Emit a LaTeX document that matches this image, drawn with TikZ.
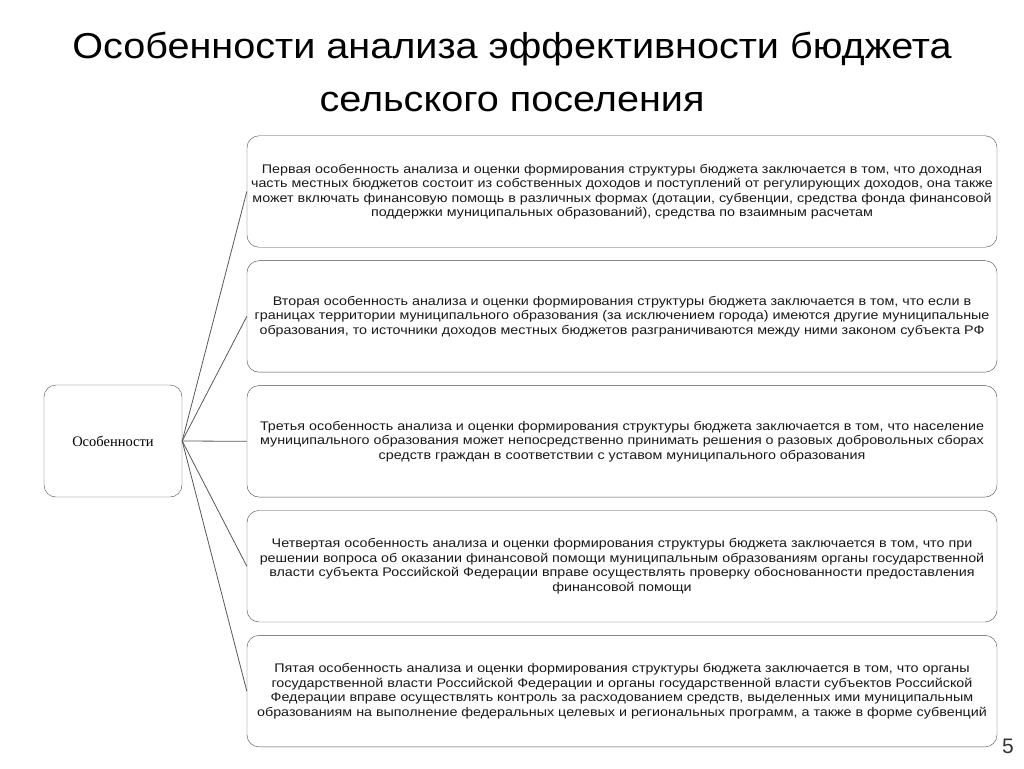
\documentclass[tikz,border=0pt]{standalone}
\usepackage{fontspec}
\setmainfont{Liberation Sans}
\newfontfamily\titlefont[FakeStretch=1.10]{Liberation Sans}
\newfontfamily\boxfont[FakeStretch=1.145]{Liberation Sans}
\newfontfamily\rootfont{Liberation Serif}
\usetikzlibrary{positioning}

\begin{document}
\begin{tikzpicture}[x=1pt, y=-1pt,
    feature/.style={draw=black!70, rounded corners=12pt, minimum height=111.5pt,
                    minimum width=750pt, align=center, inner sep=0pt, text=black!90,
                    font=\boxfont\fontsize{12.5}{14.5}\selectfont},
    rootbox/.style={draw=black!70, rounded corners=12pt, minimum height=112pt,
                    minimum width=138pt, font=\rootfont\fontsize{14.5}{18}\selectfont},
    link/.style={draw=black!65, line width=0.8pt},
    node distance=13pt
]
\useasboundingbox[fill=white] (0,0) rectangle (1024,768);

% --- Title ---
\node[font=\titlefont\fontsize{36}{40}\selectfont, anchor=base] (title1) at (512,59)
    {Особенности анализа эффективности бюджета};
\node[font=\titlefont\fontsize{36}{40}\selectfont, anchor=base] (title2) at (512,111)
    {сельского поселения};

% --- Features (right column) ---
\node[feature] (f1) at (622,191.5) {Первая особенность анализа и оценки формирования  структуры бюджета заключается в том, что доходная\\
часть местных бюджетов состоит из собственных доходов и поступлений  от регулирующих доходов, она также\\
может включать финансовую помощь в различных формах (дотации, субвенции, средства фонда финансовой\\
поддержки муниципальных  образований), средства по взаимным расчетам};
\node[feature, below=of f1] (f2) {Вторая особенность анализа и оценки формирования  структуры бюджета заключается в том, что если в\\
границах территории муниципального образования (за исключением города) имеются другие муниципальные\\
образования, то источники доходов местных бюджетов разграничиваются между ними законом субъекта РФ};
\node[feature, below=of f2] (f3) {Третья особенность анализа и оценки формирования структуры бюджета заключается в том, что население\\
муниципального образования может непосредственно принимать решения о разовых добровольных сборах\\
средств граждан в соответствии с уставом муниципального образования};
\node[feature, below=of f3] (f4) {Четвертая особенность анализа и оценки формирования структуры бюджета заключается в том, что при\\
решении вопроса об оказании финансовой помощи муниципальным образованиям органы государственной\\
власти субъекта Российской Федерации вправе осуществлять проверку обоснованности предоставления\\
финансовой помощи};
\node[feature, below=of f4] (f5) {Пятая особенность анализа и оценки формирования структуры бюджета заключается в том, что органы\\
государственной власти Российской Федерации и органы государственной власти субъектов Российской\\
Федерации вправе осуществлять контроль за расходованием средств, выделенных ими муниципальным\\
образованиям на выполнение федеральных целевых и региональных программ, а также в форме субвенций};

% --- Root ---
\node[rootbox] (root) at (113,441) {Особенности};

\foreach \i in {1,...,5}
    \draw[link] (root.east) -- (f\i.west);

% page number
\node[font=\fontsize{21}{21}\selectfont, text=black!80, anchor=base] (pagenum) at (1008,753) {5};

\end{tikzpicture}
\end{document}
